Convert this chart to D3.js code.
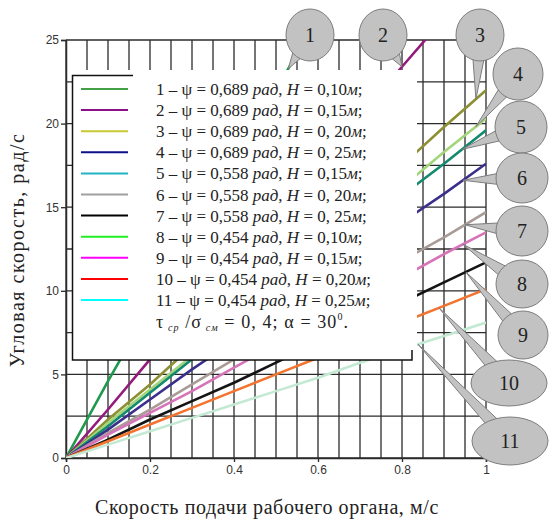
<!DOCTYPE html>
<html>
<head>
<meta charset="utf-8">
<script src="https://cdn.jsdelivr.net/npm/d3@7"></script>
<style>
  body { margin: 0; background: #fff; }
  svg { display: block; }
  .tick text { font-family: "Liberation Sans", Arial, sans-serif; font-size: 12px; fill: #333; }
</style>
</head>
<body>
<div id="chart"></div>
<script>
const width = 549;
const height = 520;

// x values (feed speed, m/s) at which the curves were read
const speeds = [0, 0.1, 0.2, 0.3, 0.4, 0.5, 0.6, 0.7, 0.8, 0.9, 1.0];

// angular speed, rad/s, per curve (curves 1 and 2 leave the plot at the top)
const curve1 = [0, 4.6, 9.0, 13.3, 17.7, 22.0, 26.4];
const curve2 = [0, 2.9, 5.9, 8.8, 11.7, 14.6, 17.6, 20.5, 23.4, 26.3];
const curve3 = [0, 2.3, 4.4, 6.7, 8.8, 11.0, 13.3, 15.4, 17.5, 19.8, 22.0];
const curve4 = [0, 2.1, 4.1, 6.1, 8.1, 10.2, 12.2, 14.2, 16.2, 18.3, 20.3];
const curve5 = [0, 1.9, 3.9, 5.9, 7.8, 9.8, 11.8, 13.7, 15.7, 17.6, 19.6];
const curve6 = [0, 1.7, 3.5, 5.3, 7.0, 8.8, 10.6, 12.3, 14.1, 15.8, 17.6];
const curve7 = [0, 1.5, 2.9, 4.4, 5.9, 7.3, 8.8, 10.3, 11.8, 13.2, 14.7];
const curve8 = [0, 1.4, 2.7, 4.0, 5.4, 6.8, 8.1, 9.4, 10.8, 12.2, 13.5];
const curve9 = [0, 1.1, 2.3, 3.4, 4.5, 5.7, 6.9, 8.1, 9.3, 10.5, 11.7];
const curve10 = [0, 1.0, 2.0, 3.0, 4.0, 5.0, 6.0, 7.1, 8.1, 9.1, 10.1];
const curve11 = [0, 0.8, 1.6, 2.4, 3.2, 4.0, 4.8, 5.7, 6.5, 7.3, 8.1];

const curves = [curve1, curve2, curve3, curve4, curve5, curve6, curve7, curve8, curve9, curve10, curve11];
const curveColors = ["#1f9a4c", "#921b7c", "#8c8f32", "#a3d67a", "#13896f", "#3b2f8c",
  "#a99b97", "#d673b9", "#141414", "#f2742f", "#c3e9d3"];

// legend
const psiValues = ["0,689", "0,689", "0,689", "0,689", "0,558", "0,558", "0,558", "0,454", "0,454", "0,454", "0,454"];
const hValues = ["0,10", "0,15", "0, 20", "0, 25", "0,15", "0, 20", "0, 25", "0,10", "0,15", "0,20", "0,25"];
const legendColors = ["#43a047", "#8b108b", "#c8c832", "#10108a", "#22b4c4", "#a0a0a0",
  "#000000", "#22ee22", "#ff00ff", "#ff0000", "#00ffff"];

// callouts: label, speed where the pointer touches the curve
const calloutLabels = ["1", "2", "3", "4", "5", "6", "7", "8", "9", "10", "11"];
const calloutSpeeds = [0.529, 0.80, 0.976, 0.976, 0.943, 0.945, 0.95, 0.945, 0.952, 0.888, 0.838];

const xTicks = [0, 0.2, 0.4, 0.6, 0.8, 1];
const yTicks = [0, 5, 10, 15, 20, 25];

const svg = d3.select("#chart").append("svg")
  .attr("width", width)
  .attr("height", height);

const x = d3.scaleLinear().domain([0, 1]).range([66, 486]);
const y = d3.scaleLinear().domain([0, 25]).range([458, 40]);

// grid
const grid = svg.append("g").attr("stroke", "#2b2b2b").attr("stroke-width", 1.3);
grid.selectAll("line.v")
  .data(d3.range(0, 1.0001, 0.05))
  .enter().append("line")
  .attr("x1", d => x(d)).attr("x2", d => x(d))
  .attr("y1", y(0)).attr("y2", y(25));
grid.selectAll("line.h")
  .data(d3.range(0, 25.001, 2.5))
  .enter().append("line")
  .attr("x1", x(0)).attr("x2", x(1))
  .attr("y1", d => y(d)).attr("y2", d => y(d));

// axes
const xAxis = svg.append("g")
  .attr("transform", `translate(0,${y(0)})`)
  .call(d3.axisBottom(x).tickValues(xTicks).tickFormat(d => d).tickSize(4).tickPadding(3));
const yAxis = svg.append("g")
  .attr("transform", `translate(${x(0)},0)`)
  .call(d3.axisLeft(y).tickValues(yTicks).tickSize(5).tickPadding(2));
[xAxis, yAxis].forEach(a => {
  a.select(".domain").attr("stroke", "#2b2b2b").attr("stroke-width", 1.5);
  a.selectAll(".tick line").attr("stroke", "#2b2b2b").attr("stroke-width", 1.3);
});

// curves
svg.append("clipPath").attr("id", "plot-clip")
  .append("rect")
  .attr("x", x(0)).attr("y", y(25))
  .attr("width", x(1) - x(0)).attr("height", y(0) - y(25));

const line = d3.line()
  .x((d, i) => x(speeds[i]))
  .y(d => y(d));

svg.append("g")
  .attr("clip-path", "url(#plot-clip)")
  .selectAll("path")
  .data(curves)
  .enter().append("path")
  .attr("d", line)
  .attr("fill", "none")
  .attr("stroke", (d, i) => curveColors[i])
  .attr("stroke-width", 2.6)
  .attr("stroke-linejoin", "round");

// legend box
const legend = svg.append("g");
legend.append("rect")
  .attr("x", 72).attr("y", 70)
  .attr("width", 345).attr("height", 290)
  .attr("fill", "#fff");
legend.append("path")
  .attr("d", "M133,75.5 H72.5 V360 H412 V350")
  .attr("fill", "none")
  .attr("stroke", "#111")
  .attr("stroke-width", 1.5);

const rowY = i => 89 + i * 21.1;
legend.selectAll("line.key")
  .data(legendColors)
  .enter().append("line")
  .attr("x1", 81).attr("x2", 128)
  .attr("y1", (d, i) => rowY(i)).attr("y2", (d, i) => rowY(i))
  .attr("stroke", d => d)
  .attr("stroke-width", 2);

const serif = "Liberation Serif";
const rows = legend.selectAll("text.row")
  .data(psiValues)
  .enter().append("text")
  .attr("x", 156)
  .attr("y", (d, i) => rowY(i) + 6)
  .attr("font-family", serif)
  .attr("font-size", 17)
  .attr("fill", "#222");
rows.append("tspan").text((d, i) => `${i + 1} – ψ = ${d} `);
rows.append("tspan").attr("font-style", "italic").text("рад");
rows.append("tspan").text(", ");
rows.append("tspan").attr("font-style", "italic").text("H");
rows.append("tspan").text((d, i) => ` = ${hValues[i]}`);
rows.append("tspan").attr("font-style", "italic").text("м");
rows.append("tspan").text(";");

const note = legend.append("text")
  .attr("x", 156).attr("y", rowY(11) + 7)
  .attr("font-family", serif)
  .attr("font-size", 18)
  .attr("letter-spacing", 1.1)
  .attr("fill", "#222");
note.append("tspan").text("τ");
note.append("tspan").attr("font-size", 10).attr("font-style", "italic").attr("dy", 3).text(" ср");
note.append("tspan").attr("dy", -3).text("  /σ");
note.append("tspan").attr("font-size", 10).attr("font-style", "italic").attr("dy", 3).text(" см");
note.append("tspan").attr("dy", -3).text("  =  0, 4; α  =  30");
note.append("tspan").attr("font-size", 10).attr("dy", -8).text("0");
note.append("tspan").attr("dy", 8).text(".");

// callouts (bubble layout in pixels)
const bubbles = [
  { cx: 310, cy: 35, rx: 24, ry: 26 },
  { cx: 383, cy: 35, rx: 24, ry: 26 },
  { cx: 480, cy: 35, rx: 24, ry: 26 },
  { cx: 518, cy: 74, rx: 25, ry: 26 },
  { cx: 521, cy: 127, rx: 26, ry: 26 },
  { cx: 522, cy: 178, rx: 26, ry: 25 },
  { cx: 522, cy: 231, rx: 26, ry: 25 },
  { cx: 522, cy: 284, rx: 26, ry: 24 },
  { cx: 523, cy: 335, rx: 25, ry: 24 },
  { cx: 509, cy: 383, rx: 38, ry: 23 },
  { cx: 510, cy: 441, rx: 38, ry: 24 }
];

function curveAt(values, s) {
  const i = Math.min(Math.floor(s * 10), values.length - 2);
  const t = (s - speeds[i]) / (speeds[i + 1] - speeds[i]);
  return values[i] + t * (values[i + 1] - values[i]);
}

const callouts = svg.append("g");
calloutLabels.forEach((label, i) => {
  const b = bubbles[i];
  const tx = x(calloutSpeeds[i]);
  const ty = y(curveAt(curves[i], calloutSpeeds[i]));
  const ang = Math.atan2(ty - b.cy, tx - b.cx);
  // wedge base sits just inside the bubble outline
  const c = Math.cos(ang), s = Math.sin(ang);
  const r = 0.8 / Math.sqrt((c * c) / (b.rx * b.rx) + (s * s) / (b.ry * b.ry));
  const bx = b.cx + c * r, by = b.cy + s * r;
  const w = 6;
  const px = -s * w, py = c * w;
  const g = callouts.append("g");
  g.append("path")
    .attr("d", `M${bx + px},${by + py} L${tx},${ty} L${bx - px},${by - py} Z`)
    .attr("fill", "#c2c2c2")
    .attr("stroke", "#7d7d7d")
    .attr("stroke-width", 1);
  g.append("ellipse")
    .attr("cx", b.cx).attr("cy", b.cy)
    .attr("rx", b.rx).attr("ry", b.ry)
    .attr("fill", "#c2c2c2")
    .attr("stroke", "#7d7d7d")
    .attr("stroke-width", 1);
  g.append("text")
    .attr("x", b.cx).attr("y", b.cy + 7)
    .attr("text-anchor", "middle")
    .attr("font-family", serif)
    .attr("font-size", 20)
    .attr("fill", "#222")
    .text(label);
});

// axis titles
svg.append("text")
  .attr("x", 267).attr("y", 514)
  .attr("text-anchor", "middle")
  .attr("font-family", serif)
  .attr("font-size", 20)
  .attr("letter-spacing", 0.6)
  .attr("fill", "#222")
  .text("Скорость подачи рабочего органа, м/с");

svg.append("text")
  .attr("transform", "translate(24,250) rotate(-90)")
  .attr("text-anchor", "middle")
  .attr("font-family", serif)
  .attr("font-size", 20)
  .attr("letter-spacing", 1.5)
  .attr("fill", "#222")
  .text("Угловая скорость, рад/с");
</script>
</body>
</html>
